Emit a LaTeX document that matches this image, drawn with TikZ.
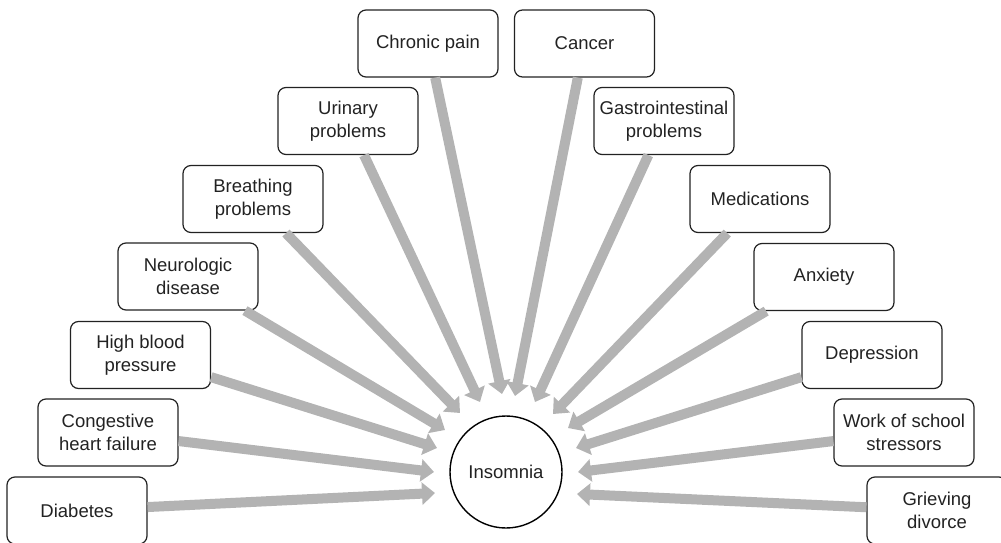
\documentclass[tikz,border=0pt]{standalone}
\usepackage{fontspec}
\setmainfont{Liberation Sans}
\usetikzlibrary{arrows.meta}
\definecolor{inkgray}{HTML}{222222}
\definecolor{feedgray}{HTML}{B3B3B3}
\tikzset{
  cause/.style={draw=inkgray, line width=1.2pt, rounded corners=8pt,
    minimum width=140pt, minimum height=67pt, inner sep=2pt, align=center,
    text=inkgray, font=\fontsize{18.5pt}{22.5pt}\selectfont},
  hub/.style={draw=black, line width=1.4pt, circle, minimum size=112pt,
    inner sep=0pt, text=inkgray, font=\fontsize{18.5pt}{22.5pt}\selectfont},
  feed/.style={draw=feedgray, line width=10pt,
    -{Triangle[length=13pt, width=22pt]}}
}
\begin{document}
\begin{tikzpicture}[x=1pt, y=-1pt]
\useasboundingbox (0,0) rectangle (1001,543);
\clip (0,0) rectangle (1001,543);

% central condition
\node[hub] (ins) at (506,472) {Insomnia};

% contributing causes, left half
\node[cause] (diab)  at (77,510.5)   {Diabetes};
\node[cause] (chf)   at (108,432.5)  {Congestive\\heart failure};
\node[cause] (hbp)   at (140.5,355)  {High blood\\pressure};
\node[cause] (neuro) at (188,276.5)  {Neurologic\\disease};
\node[cause] (breath) at (253,199)   {Breathing\\problems};
\node[cause] (urin)  at (348,121)    {Urinary\\problems};
\node[cause] (pain)  at (428,43.5)   {Chronic pain};

% contributing causes, right half
\node[cause] (canc)  at (584.5,43.5) {Cancer};
\node[cause] (gastro) at (664,121)   {Gastrointestinal\\problems};
\node[cause] (meds)  at (760,199)    {Medications};
\node[cause] (anx)   at (824,277)    {Anxiety};
\node[cause] (dep)   at (872,355)    {Depression};
\node[cause] (work)  at (904,432.5)  {Work of school\\stressors};
\node[cause] (grief) at (937,510.5)  {Grieving\\divorce};

% arrow tips, on a ring around the hub
\coordinate (tDiab)   at (435,493);
\coordinate (tChf)    at (434,472);
\coordinate (tHbp)    at (437,448);
\coordinate (tNeuro)  at (445,430);
\coordinate (tBreath) at (460,413);
\coordinate (tUrin)   at (480,402);
\coordinate (tPain)   at (502,394);
\coordinate (tCanc)   at (515,396);
\coordinate (tGastro) at (535,402);
\coordinate (tMeds)   at (553,414);
\coordinate (tAnx)    at (568,428);
\coordinate (tDep)    at (576,448);
\coordinate (tWork)   at (578,472);
\coordinate (tGrief)  at (577,494);

\draw[feed] (diab)   -- (tDiab);
\draw[feed] (chf)    -- (tChf);
\draw[feed] (hbp)    -- (tHbp);
\draw[feed] (neuro)  -- (tNeuro);
\draw[feed] (breath) -- (tBreath);
\draw[feed] (urin)   -- (tUrin);
\draw[feed] (pain)   -- (tPain);
\draw[feed] (canc)   -- (tCanc);
\draw[feed] (gastro) -- (tGastro);
\draw[feed] (meds)   -- (tMeds);
\draw[feed] (anx)    -- (tAnx);
\draw[feed] (dep)    -- (tDep);
\draw[feed] (work)   -- (tWork);
\draw[feed] (grief)  -- (tGrief);
\end{tikzpicture}
\end{document}
